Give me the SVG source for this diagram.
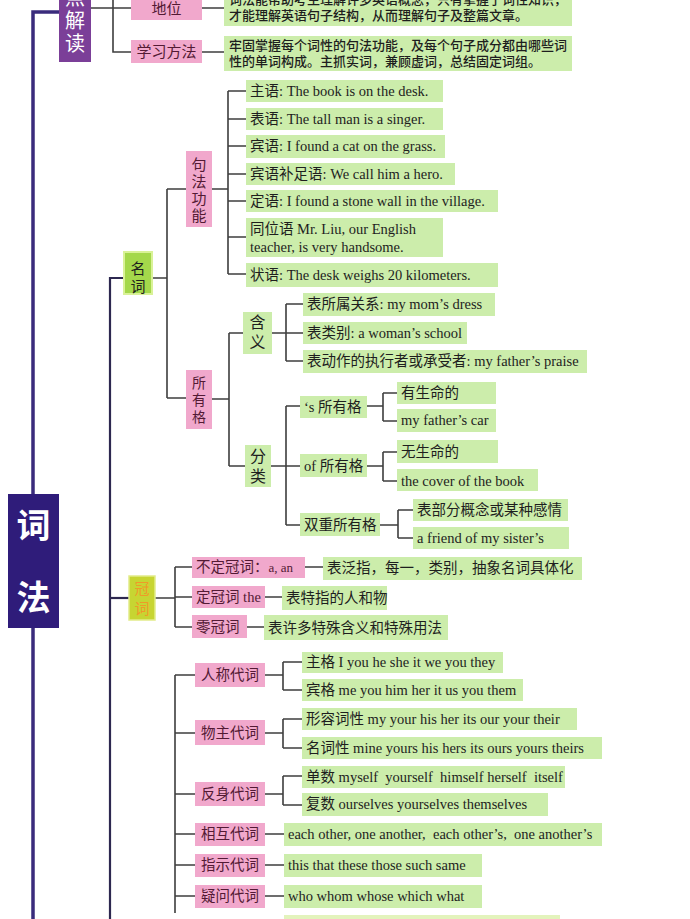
<svg xmlns="http://www.w3.org/2000/svg" width="690" height="919" viewBox="0 0 690 919">
<style>
.ln{fill:none;stroke:#3e3e3e;stroke-width:1.6}
.ln2{fill:none;stroke:#2d2850;stroke-width:2.2}
.sp{fill:none;stroke:#3a2b7c;stroke-width:3.5}
.g{fill:#ccedab}
.p{fill:#f1a8cc}
.t{font-family:"Liberation Serif","Noto Sans CJK SC",serif;font-size:14.5px;fill:#1e1e1e;white-space:pre}
.ct{font-family:"Noto Sans CJK SC",sans-serif;font-size:13px;font-weight:500;fill:#1e1e1e}
.pt{font-family:"Liberation Serif","Noto Sans CJK SC",serif;font-size:14.5px;fill:#531a34}
.vt{font-family:"Noto Sans CJK SC",sans-serif;font-size:15px;writing-mode:vertical-rl}
</style>
<rect width="690" height="919" fill="#ffffff"/>

<g id="connectors">
  <path class="sp" d="M59,12 H33 V919"/>
  <path class="ln2" d="M125,278 H110 V919"/>
  <path class="ln2" d="M110,598 H130"/>
  <path class="ln" d="M91,8 H131 M113,0 V52 H131 M202,8 H224 M202,52 H224"/>
  <path class="ln" d="M151,278 H167 M167,189 V398 M167,189 H186 M167,398 H186"/>
  <path class="ln" d="M212,189 H228 M228,91 V274 M228,91 H246 M228,119 H246 M228,146 H246 M228,174 H246 M228,201 H246 M228,237 H246 M228,274 H246"/>
  <path class="ln" d="M212,399 H229 M229,333 V466 M229,333 H243 M229,466 H245"/>
  <path class="ln" d="M272,333 H286 M286,304 V361 M286,304 H303 M286,333 H303 M286,361 H303"/>
  <path class="ln" d="M271,466 H286 M286,406 V525 M286,406 H300 M286,466 H300 M286,525 H300"/>
  <path class="ln" d="M367,406 H383 M383,393 V421 M383,393 H397 M383,421 H397"/>
  <path class="ln" d="M367,466 H383 M383,452 V481 M383,452 H397 M383,481 H397"/>
  <path class="ln" d="M380,525 H398 M398,510 V538 M398,510 H413 M398,538 H413"/>
  <path class="ln" d="M154,598 H175 M175,567 V627 M175,567 H192 M175,597 H192 M175,627 H192"/>
  <path class="ln" d="M305,567 H323 M265,597 H282 M247,627 H264"/>
  <path class="ln" d="M175,675 V913 M175,675 H195 M175,733 H195 M175,794 H195 M175,834 H195 M175,865 H195 M175,896 H195"/>
  <path class="ln" d="M265,675 H283 M283,662 V690 M283,662 H302 M283,690 H302"/>
  <path class="ln" d="M265,733 H283 M283,719 V748 M283,719 H302 M283,748 H302"/>
  <path class="ln" d="M265,794 H283 M283,776 V805 M283,776 H302 M283,805 H302"/>
  <path class="ln" d="M265,834 H284 M265,865 H284 M265,896 H284"/>
</g>

<g id="cifa">
  <rect x="8" y="494" width="51" height="134" fill="#2f1c7a"/>
  <text class="vt" x="33.5" y="508" fill="#ffffff" style="font-size:34px;font-weight:bold;letter-spacing:38px">词法</text>
</g>

<g id="jiedu">
  <rect x="59" y="-4" width="32" height="66" fill="#7b3f98"/>
  <text class="vt" x="75" y="-13" fill="#ffffff" style="font-size:20px;letter-spacing:3px">点解读</text>
</g>
<g id="diwei">
  <rect class="p" x="131" y="-4" width="71" height="24"/>
  <text class="pt" x="166.5" y="14" text-anchor="middle" style="font-size:15px">地位</text>
</g>
<g id="diwei-text">
  <rect class="g" x="224" y="-4" width="348" height="30"/>
  <text class="ct" x="229" y="4">词法能帮助考生理解许多英语概念，只有掌握了词性知识，<tspan x="229" dy="16">才能理解英语句子结构，从而理解句子及整篇文章。</tspan></text>
</g>
<g id="fangfa">
  <rect class="p" x="131" y="40" width="71" height="23"/>
  <text class="pt" x="166.5" y="57" text-anchor="middle" style="font-size:15px">学习方法</text>
</g>
<g id="fangfa-text">
  <rect class="g" x="224" y="36" width="348" height="35"/>
  <text class="ct" x="229" y="50">牢固掌握每个词性的句法功能，及每个句子成分都由哪些词<tspan x="229" dy="16">性的单词构成。主抓实词，兼顾虚词，总结固定词组。</tspan></text>
</g>

<g id="mingci">
  <rect x="124" y="252" width="28" height="42" fill="#a4d84b" stroke="#d9f297" stroke-width="2"/>
  <text class="vt" x="138" y="260.5" fill="#1e1e1e" style="letter-spacing:3px">名词</text>
</g>
<g id="jufa">
  <rect class="p" x="186" y="151" width="26" height="76"/>
  <text class="vt" x="199" y="156.5" fill="#531a34" style="letter-spacing:2px">句法功能</text>
</g>
<g id="zhuyu"><rect class="g" x="246" y="80" width="197" height="22"/><text class="t" x="250" y="96">主语: The book is on the desk.</text></g>
<g id="biaoyu"><rect class="g" x="246" y="108" width="197" height="22"/><text class="t" x="250" y="124">表语: The tall man is a singer.</text></g>
<g id="binyu"><rect class="g" x="246" y="135" width="199" height="23"/><text class="t" x="250" y="151">宾语: I found a cat on the grass.</text></g>
<g id="bubu"><rect class="g" x="246" y="163" width="209" height="22"/><text class="t" x="250" y="179">宾语补足语: We call him a hero.</text></g>
<g id="dingyu"><rect class="g" x="246" y="190" width="252" height="22"/><text class="t" x="250" y="206">定语: I found a stone wall in the village.</text></g>
<g id="tongwei"><rect class="g" x="246" y="218" width="197" height="39"/><text class="t" x="250" y="234">同位语 Mr. Liu, our English<tspan x="250" dy="18">teacher, is very handsome.</tspan></text></g>
<g id="zhuangyu"><rect class="g" x="246" y="263" width="252" height="24"/><text class="t" x="250" y="280">状语: The desk weighs 20 kilometers.</text></g>

<g id="suoyouge">
  <rect class="p" x="186" y="370" width="26" height="59"/>
  <text class="vt" x="199" y="376" fill="#531a34" style="font-size:14px;letter-spacing:3px">所有格</text>
</g>
<g id="hanyi">
  <rect class="g" x="243" y="312" width="29" height="42"/>
  <text class="vt" x="257.5" y="314" fill="#1e1e1e" style="font-size:16px;letter-spacing:4px">含义</text>
</g>
<g id="h1"><rect class="g" x="303" y="293" width="192" height="23"/><text class="t" x="307" y="309">表所属关系: my mom’s dress</text></g>
<g id="h2"><rect class="g" x="303" y="322" width="164" height="22"/><text class="t" x="307" y="338">表类别: a woman’s school</text></g>
<g id="h3"><rect class="g" x="303" y="350" width="284" height="23"/><text class="t" x="307" y="366">表动作的执行者或承受者: my father’s praise</text></g>

<g id="fenlei">
  <rect class="g" x="245" y="445" width="26" height="42"/>
  <text class="vt" x="258" y="448" fill="#1e1e1e" style="font-size:16px;letter-spacing:4px">分类</text>
</g>
<g id="s-ge"><rect class="g" x="300" y="396" width="67" height="22"/><text class="t" x="304" y="412">‘s 所有格</text></g>
<g id="s1"><rect class="g" x="397" y="382" width="99" height="22"/><text class="t" x="401" y="398">有生命的</text></g>
<g id="s2"><rect class="g" x="397" y="409" width="99" height="23"/><text class="t" x="401" y="425">my father’s car</text></g>
<g id="of-ge"><rect class="g" x="300" y="454" width="67" height="23"/><text class="t" x="304" y="471">of 所有格</text></g>
<g id="o1"><rect class="g" x="397" y="440" width="101" height="23"/><text class="t" x="401" y="457">无生命的</text></g>
<g id="o2"><rect class="g" x="397" y="469" width="141" height="22"/><text class="t" x="401" y="486">the cover of the book</text></g>
<g id="shuang"><rect class="g" x="300" y="513" width="80" height="23"/><text class="t" x="304" y="530">双重所有格</text></g>
<g id="d1"><rect class="g" x="413" y="499" width="155" height="22"/><text class="t" x="417" y="515">表部分概念或某种感情</text></g>
<g id="d2"><rect class="g" x="413" y="527" width="156" height="22"/><text class="t" x="417" y="543">a friend of my sister’s</text></g>

<g id="guanci">
  <rect x="129" y="576" width="26" height="44" fill="#c7d532" stroke="#e2ec8a" stroke-width="1.5"/>
  <text class="vt" x="142" y="580.5" fill="#f09a28" style="letter-spacing:5px">冠词</text>
</g>
<g id="buding"><rect class="p" x="192" y="557" width="113" height="21"/><text class="pt" x="196" y="572">不定冠词：<tspan style="font-size:13px">a, an</tspan></text></g>
<g id="buding-t"><rect class="g" x="323" y="557" width="259" height="23"/><text class="t" x="327" y="573">表泛指，每一，类别，抽象名词具体化</text></g>
<g id="ding"><rect class="p" x="192" y="586" width="73" height="22"/><text class="pt" x="196" y="602">定冠词 the</text></g>
<g id="ding-t"><rect class="g" x="282" y="586" width="105" height="24"/><text class="t" x="286" y="603">表特指的人和物</text></g>
<g id="ling"><rect class="p" x="192" y="615" width="55" height="23"/><text class="pt" x="196" y="632">零冠词</text></g>
<g id="ling-t"><rect class="g" x="264" y="615" width="184" height="25"/><text class="t" x="268" y="633">表许多特殊含义和特殊用法</text></g>

<g id="rencheng"><rect class="p" x="195" y="663" width="70" height="24"/><text class="pt" x="230" y="680" text-anchor="middle">人称代词</text></g>
<g id="r1"><rect class="g" x="302" y="652" width="201" height="21"/><text class="t" x="306" y="667">主格 I you he she it we you they</text></g>
<g id="r2"><rect class="g" x="302" y="679" width="221" height="22"/><text class="t" x="306" y="695">宾格 me you him her it us you them</text></g>
<g id="wuzhu"><rect class="p" x="195" y="720" width="70" height="25"/><text class="pt" x="230" y="738" text-anchor="middle">物主代词</text></g>
<g id="w1"><rect class="g" x="302" y="708" width="275" height="22"/><text class="t" x="306" y="724">形容词性 my your his her its our your their</text></g>
<g id="w2"><rect class="g" x="302" y="737" width="300" height="22"/><text class="t" x="306" y="753">名词性 mine yours his hers its ours yours theirs</text></g>
<g id="fanshen"><rect class="p" x="195" y="782" width="70" height="24"/><text class="pt" x="230" y="799" text-anchor="middle">反身代词</text></g>
<g id="f1"><rect class="g" x="302" y="766" width="263" height="22"/><text class="t" x="306" y="782">单数 myself  yourself  himself herself  itself</text></g>
<g id="f2"><rect class="g" x="302" y="793" width="246" height="23"/><text class="t" x="306" y="809">复数 ourselves yourselves themselves</text></g>
<g id="xianghu"><rect class="p" x="195" y="823" width="70" height="23"/><text class="pt" x="230" y="839" text-anchor="middle">相互代词</text></g>
<g id="x1"><rect class="g" x="284" y="823" width="318" height="23"/><text class="t" x="288" y="839">each other, one another,  each other’s,  one another’s</text></g>
<g id="zhishi"><rect class="p" x="195" y="854" width="70" height="23"/><text class="pt" x="230" y="870" text-anchor="middle">指示代词</text></g>
<g id="z1"><rect class="g" x="284" y="854" width="198" height="23"/><text class="t" x="288" y="870">this that these those such same</text></g>
<g id="yiwen"><rect class="p" x="195" y="885" width="70" height="23"/><text class="pt" x="230" y="901" text-anchor="middle">疑问代词</text></g>
<g id="y1"><rect class="g" x="284" y="885" width="198" height="23"/><text class="t" x="288" y="901">who whom whose which what</text></g>
<g id="bottom"><rect x="284" y="915" width="276" height="10" fill="#e3f3bc"/></g>
</svg>
